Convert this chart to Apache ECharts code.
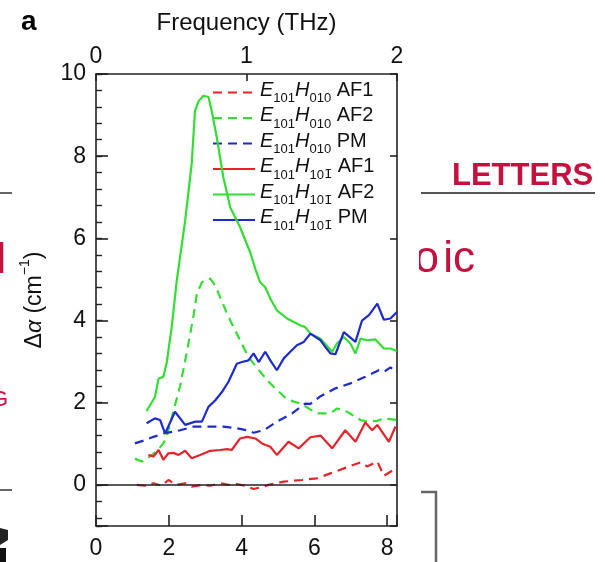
<!DOCTYPE html>
<html><head><meta charset="utf-8">
<script src="https://cdn.jsdelivr.net/npm/echarts@6/dist/echarts.min.js"></script>
<style>html,body{margin:0;padding:0;background:#fff}#c{width:605px;height:562px}</style>
</head><body><div id="c"></div>
<script>
// ---- data (x in meV, y = Δα in cm^-1) ----
const X_MAX = 8.2713;          // 2 THz in meV
const THZ_MAX = 2;
const hSubs = ['010','010','010','10','10','10'];
const hBar = ['','','','1\u0304','1\u0304','1\u0304'];
const phases = ['AF1','AF2','PM','AF1','AF2','PM'];
const colors = ['#e3242b','#33dd33','#1f2bc9','#e3242b','#33dd33','#1f2bc9'];
const dashed = [true,true,true,false,false,false];

const redDashX = [1.12,1.35,1.58,1.80,1.99,2.20,2.45,2.63,2.91,3.14,3.41,3.64,3.87,4.10,4.33,4.61,4.74,5.16,5.66,6.07,6.44,6.90,7.27,7.45,7.73,7.91,8.27];
const redDashY = [0.00,-0.02,0.04,-0.02,0.12,0.00,0.04,-0.04,0.00,-0.02,0.04,0.00,0.02,-0.02,-0.10,-0.04,0.00,0.08,0.12,0.16,0.28,0.43,0.55,0.45,0.57,0.22,0.42];

const greenDashX = [1.07,1.26,1.50,1.70,1.85,1.94,2.04,2.31,2.50,2.68,2.77,2.91,3.05,3.14,3.28,3.41,3.60,3.78,3.96,4.19,4.47,4.70,4.88,5.25,5.62,6.07,6.44,6.62,6.90,7.27,7.45,7.73,7.91,8.27];
const greenDashY = [0.64,0.57,0.70,0.85,1.01,1.17,1.50,2.40,3.25,4.12,4.65,4.93,5.00,5.02,4.85,4.57,4.17,3.84,3.52,3.11,2.80,2.55,2.39,2.08,1.98,1.74,1.74,1.86,1.78,1.58,1.54,1.56,1.62,1.58];

const blueDashX = [1.07,1.35,1.58,1.85,2.31,2.68,3.05,3.50,3.87,4.15,4.33,4.61,4.97,5.39,5.75,5.89,6.17,6.58,6.99,7.40,7.77,7.91,8.09,8.27];
const blueDashY = [1.01,1.09,1.17,1.25,1.33,1.42,1.42,1.42,1.38,1.33,1.27,1.33,1.54,1.74,1.98,1.97,2.16,2.35,2.47,2.63,2.79,2.75,2.86,2.75];

const redSolidX = [1.44,1.58,1.72,1.85,1.99,2.13,2.27,2.45,2.63,2.86,3.14,3.41,3.60,3.73,3.96,4.15,4.38,4.56,4.79,4.97,5.29,5.57,5.89,6.17,6.49,6.85,7.13,7.40,7.59,7.73,8.05,8.23];
const redSolidY = [0.73,0.69,0.85,0.61,0.77,0.78,0.73,0.83,0.65,0.73,0.83,0.85,0.87,0.85,1.13,1.17,1.13,1.01,0.93,0.73,1.05,0.89,1.16,1.20,0.89,1.33,1.05,1.52,1.33,1.46,1.05,1.42];

const greenSolidX = [1.39,1.62,1.72,1.85,1.94,2.08,2.22,2.45,2.63,2.72,2.82,2.95,3.09,3.18,3.32,3.50,3.69,3.96,4.24,4.38,4.51,4.65,4.81,4.97,5.25,5.62,5.75,5.89,6.17,6.49,6.62,6.81,6.99,7.13,7.27,7.45,7.68,7.91,8.09,8.27];
const greenSolidY = [1.80,2.14,2.59,2.63,2.96,3.84,4.98,6.43,7.82,9.10,9.34,9.47,9.44,9.10,8.45,7.48,6.75,6.27,5.65,5.25,4.93,4.81,4.50,4.25,4.05,3.88,3.84,3.68,3.56,3.24,3.44,3.60,3.44,3.20,3.56,3.52,3.54,3.32,3.32,3.26];

const blueSolidX = [1.39,1.62,1.76,1.90,2.17,2.45,2.73,2.91,3.09,3.28,3.46,3.64,3.87,4.01,4.19,4.33,4.47,4.65,4.79,4.97,5.16,5.34,5.52,5.71,5.89,6.17,6.30,6.44,6.58,6.81,7.13,7.31,7.50,7.73,7.91,8.09,8.27];
const blueSolidY = [1.50,1.62,1.58,1.25,1.78,1.46,1.54,1.54,1.90,2.06,2.26,2.51,2.95,2.99,3.03,3.20,2.99,3.24,3.03,2.79,3.08,3.24,3.40,3.48,3.68,3.52,3.36,3.20,3.18,3.72,3.48,4.00,4.13,4.41,4.02,4.05,4.21];

const allX = [redDashX, greenDashX, blueDashX, redSolidX, greenSolidX, blueSolidX];
const allY = [redDashY, greenDashY, blueDashY, redSolidY, greenSolidY, blueSolidY];

const yTicksMajor = 2, yTicksMinor = 0.4;

// ---- build ----
const FONT = 'Liberation Sans, Arial, Helvetica, sans-serif';
const names = hSubs.map((h, i) => 'E101H' + h + hBar[i] + ' ' + phases[i]);
const series = names.map((n, i) => ({
  name: n, type: 'line', symbol: 'none', smooth: false,
  xAxisIndex: 0, yAxisIndex: 0, z: 3 + (dashed[i] ? 0 : 1),
  lineStyle: {color: colors[i], width: 2.2, type: dashed[i] ? [9, 6] : 'solid'},
  itemStyle: {color: colors[i]},
  data: allX[i].map((x, k) => [x, allY[i][k]])
}));
series[0].markLine = {
  silent: true, symbol: ['none', 'none'], label: {show: false},
  lineStyle: {color: '#222', type: 'solid', width: 1.6},
  data: [{yAxis: 0}], animation: false
};

const axisCol = '#222';
const lbl = {fontSize: 23, color: '#111', fontFamily: FONT};
const isMult = (v, m) => Math.abs(v / m - Math.round(v / m)) < 1e-6;

const option = {
  animation: false,
  backgroundColor: '#fff',
  textStyle: {fontFamily: FONT},
  grid: {left: 96, right: 208, top: 74, bottom: 36, containLabel: false},
  legend: {
    orient: 'vertical', left: 212, top: 80, padding: 0,
    itemWidth: 42, itemHeight: 12, itemGap: 0.5,
    itemStyle: {opacity: 0},
    data: names,
    formatter: function (name) {
      const i = names.indexOf(name);
      return '{i|E}{s|101}{i|H}{s|' + hSubs[i] + '}' + (hBar[i] ? '{b|' + hBar[i] + '}' : '') + '{t| ' + phases[i] + '}';
    },
    textStyle: {
      color: '#111', fontFamily: FONT,
      rich: {
        i: {fontStyle: 'italic', fontSize: 20, lineHeight: 25, verticalAlign: 'top', fontFamily: FONT, color: '#111'},
        s: {fontSize: 13, lineHeight: 12, verticalAlign: 'bottom', fontFamily: FONT, color: '#111'},
        b: {fontSize: 13, lineHeight: 12, verticalAlign: 'bottom', fontFamily: 'DejaVu Sans', color: '#111'},
        t: {fontSize: 20, lineHeight: 25, verticalAlign: 'top', fontFamily: FONT, color: '#111'}
      }
    }
  },
  xAxis: [
    {
      type: 'value', position: 'bottom', min: 0, max: X_MAX, interval: 2,
      axisLine: {show: true, onZero: false, lineStyle: {color: axisCol, width: 1.6}},
      axisTick: {show: true, inside: true, length: 11, lineStyle: {color: axisCol, width: 1.6}},
      axisLabel: Object.assign({margin: 11, formatter: v => isMult(v, 2) ? String(v) : ''}, lbl),
      splitLine: {show: false}
    },
    {
      type: 'value', position: 'top', min: 0, max: THZ_MAX, interval: 1,
      name: 'Frequency (THz)', nameLocation: 'middle', nameGap: 39,
      nameTextStyle: {fontSize: 24, color: '#111', fontFamily: FONT},
      axisLine: {show: true, onZero: false, lineStyle: {color: axisCol, width: 1.6}},
      axisTick: {show: true, inside: true, length: 7, lineStyle: {color: axisCol, width: 1.6}},
      axisLabel: Object.assign({margin: 6}, lbl),
      splitLine: {show: false}
    }
  ],
  yAxis: [
    {
      type: 'value', position: 'left', min: -1, max: 10,
      minInterval: yTicksMajor, maxInterval: yTicksMajor,
      name: '{n|Δ}{a|α}{n| (cm}{p|−1}{n|)}', nameLocation: 'middle', nameGap: 50,
      nameTextStyle: {
        color: '#111', fontFamily: FONT,
        rich: {
          n: {fontSize: 23, lineHeight: 28, verticalAlign: 'bottom', fontFamily: FONT, color: '#111'},
          a: {fontSize: 23, lineHeight: 28, verticalAlign: 'bottom', fontStyle: 'italic', fontFamily: FONT, color: '#111'},
          p: {fontSize: 14, lineHeight: 14, verticalAlign: 'top', fontFamily: FONT, color: '#111'}
        }
      },
      axisLine: {show: true, onZero: false, lineStyle: {color: axisCol, width: 1.6}},
      axisTick: {show: true, inside: true, length: 12, lineStyle: {color: axisCol, width: 1.6}},
      axisLabel: Object.assign({margin: 10, formatter: v => isMult(v, 2) ? String(v) : ''}, lbl),
      splitLine: {show: false}
    },
    {
      type: 'value', position: 'left', min: -1, max: 10,
      minInterval: yTicksMinor, maxInterval: yTicksMinor,
      axisLine: {show: false},
      axisTick: {show: true, inside: true, length: 6, lineStyle: {color: axisCol, width: 1.4}},
      axisLabel: {show: false}, splitLine: {show: false}
    },
    {
      type: 'value', position: 'right', min: -1, max: 10,
      minInterval: yTicksMajor, maxInterval: yTicksMajor,
      axisLine: {show: true, onZero: false, lineStyle: {color: axisCol, width: 1.6}},
      axisTick: {show: true, inside: true, length: 7, lineStyle: {color: axisCol, width: 1.6}},
      axisLabel: {show: false}, splitLine: {show: false}
    }
  ],
  graphic: [
    {type: 'text', x: 21, y: 22, z: 10, style: {text: 'a', font: 'bold 28px ' + FONT, fill: '#000', verticalAlign: 'middle'}},
    // background page fragments
    {type: 'text', x: 452, y: 192, z: -5, style: {text: 'LETTERS', font: 'bold 31px ' + FONT, fill: '#c4123f', verticalAlign: 'bottom'}},
    {type: 'line', z: -5, shape: {x1: 421, y1: 193, x2: 595, y2: 193}, style: {stroke: '#555', lineWidth: 2}},
    {type: 'line', z: -5, shape: {x1: 0, y1: 193, x2: 12, y2: 193}, style: {stroke: '#666', lineWidth: 2}},
    {type: 'text', x: 439, y: 282, z: -5, style: {text: 'o', font: '44px ' + FONT, fill: '#c4123f', align: 'right', verticalAlign: 'bottom'}},
    {type: 'text', x: 475, y: 282, z: -5, style: {text: 'ic', font: '44px ' + FONT, fill: '#c4123f', align: 'right', verticalAlign: 'bottom'}},
    {type: 'rect', z: -4, shape: {x: 398, y: 225, width: 21, height: 80}, style: {fill: '#fff'}},
    {type: 'text', x: 6, y: 282, z: -5, style: {text: 'l', font: '42px ' + FONT, fill: '#c4123f', align: 'right', verticalAlign: 'bottom'}},
    {type: 'text', x: 8, y: 400, z: -5, style: {text: 'G', font: '22px ' + FONT, fill: '#c4123f', align: 'right', verticalAlign: 'middle'}},
    {type: 'line', z: -5, shape: {x1: 0, y1: 490, x2: 12, y2: 490}, style: {stroke: '#666', lineWidth: 2}},
    {type: 'polygon', z: -5, shape: {points: [[0, 528], [8, 530], [8, 540], [0, 545]]}, style: {fill: '#222'}},
    {type: 'rect', z: -5, shape: {x: 0, y: 548, width: 6, height: 14}, style: {fill: '#111'}},
    {type: 'polyline', z: -5, shape: {points: [[421, 492], [436, 492], [436, 562]]}, style: {stroke: '#666', lineWidth: 2.5, fill: null}}
  ],
  series: series
};

const chart = echarts.init(document.getElementById('c'), null, {renderer: 'canvas'});
chart.setOption(option);
</script></body></html>
